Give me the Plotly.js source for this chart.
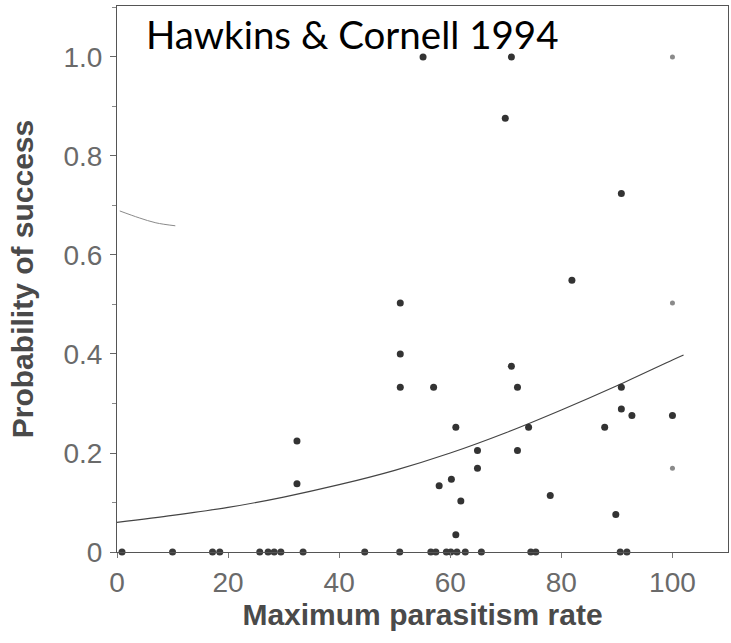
<!DOCTYPE html>
<html>
<head>
<meta charset="utf-8">
<script src="https://cdn.plot.ly/plotly-3.0.1.min.js"></script>
<style>html,body{margin:0;padding:0;background:#fff;}#chart{width:731px;height:643px;}</style>
</head>
<body>
<div id="chart"></div>
<script>
// Observed data points (maximum parasitism rate, probability of success)
var pointX = [55.1, 71.0, 69.9, 90.8, 81.9, 51.0, 51.0, 71.0, 51.0, 57.0, 72.1, 90.8, 90.8, 92.7, 100,
              61.0, 74.1, 87.8, 32.4, 64.9, 72.1, 64.9, 60.2, 58.0, 32.4, 61.9, 78.0, 89.8, 61.0];
var pointY = [1.0, 1.0, 0.876, 0.724, 0.549, 0.503, 0.40, 0.375, 0.333, 0.333, 0.333, 0.333, 0.289, 0.276, 0.276,
              0.252, 0.252, 0.252, 0.224, 0.205, 0.205, 0.169, 0.147, 0.134, 0.138, 0.103, 0.114, 0.076, 0.035];
// Faint (lighter) points at 100
var faintX = [100, 100, 100];
var faintY = [1.0, 0.503, 0.169];
// Zero-success points along the x axis
var zeroX = [0.9, 10, 17.2, 18.5, 25.7, 27.2, 28.3, 29.5, 33.5, 44.6, 50.9, 56.5, 57.4, 59.3, 60.1, 61.2,
             62.7, 65.6, 74.5, 75.4, 90.6, 91.8];
var zeroY = [0, 0, 0, 0, 0, 0, 0, 0, 0, 0, 0, 0, 0, 0, 0, 0, 0, 0, 0, 0, 0, 0];
// Fitted curve
var curveX = [0, 10, 20, 30, 40, 50, 60, 70, 80, 90, 100, 102];
var curveY = [0.060, 0.074, 0.090, 0.111, 0.136, 0.165, 0.200, 0.241, 0.287, 0.336, 0.388, 0.398];
// Stray arc fragment at upper left of the scan
var arcX = [0.5, 4, 7, 10.5];
var arcY = [0.689, 0.675, 0.665, 0.659];

var yTickVals = [0, 0.2, 0.4, 0.6, 0.8, 1.0];
var yTickText = ['0', '0.2', '0.4', '0.6', '0.8', '1.0'];
var xTickVals = [0, 20, 40, 60, 80, 100];
var xTickText = ['0', '20', '40', '60', '80', '100'];

var traces = [
  {x: arcX, y: arcY, mode: 'lines', line: {color: '#8a8a8a', width: 1, shape: 'spline'}, hoverinfo: 'skip', cliponaxis: false},
  {x: curveX, y: curveY, mode: 'lines', line: {color: '#444', width: 1.2, shape: 'spline', smoothing: 0.8}, cliponaxis: false},
  {x: zeroX, y: zeroY, mode: 'markers', marker: {color: '#3a3a3a', size: 7}, cliponaxis: false},
  {x: pointX, y: pointY, mode: 'markers', marker: {color: '#333', size: 7}, cliponaxis: false},
  {x: faintX, y: faintY, mode: 'markers', marker: {color: '#8a8a8a', size: 5}, cliponaxis: false}
];

var tickFont = {family: 'Liberation Sans, Arial, sans-serif', size: 28, color: '#6a6a6a'};
var titleFont = {family: 'Liberation Sans, Arial, sans-serif', size: 30, color: '#4a4a4a', weight: 'bold'};

var layout = {
  width: 731, height: 643,
  margin: {l: 117, r: 3, t: 6, b: 91},
  paper_bgcolor: '#fff', plot_bgcolor: '#fff',
  showlegend: false,
  title: {
    text: 'Hawkins & Cornell 1994',
    font: {family: 'Lato, sans-serif', size: 38.5, color: '#000'},
    x: 146 / 731, xanchor: 'left', xref: 'container',
    y: 1 - 22 / 643, yanchor: 'top', yref: 'container'
  },
  xaxis: {
    range: [0, 110], showgrid: false, zeroline: false,
    showline: true, linecolor: '#555', linewidth: 1, mirror: true,
    ticks: 'outside', ticklen: 5, tickcolor: '#777', tickwidth: 1,
    tickvals: xTickVals, ticktext: xTickText, tickfont: tickFont,
    ticklabelstandoff: 0,
    title: {text: 'Maximum parasitism rate', font: titleFont, standoff: 2}
  },
  yaxis: {
    range: [0, 1.103], showgrid: false, zeroline: false,
    showline: true, linecolor: '#555', linewidth: 1, mirror: true,
    ticks: 'outside', ticklen: 6, tickcolor: '#666', tickwidth: 1,
    tickvals: yTickVals, ticktext: yTickText, tickfont: tickFont,
    ticklabelstandoff: 2,
    minor: {dtick: 0.1, ticks: 'outside', ticklen: 4, tickcolor: '#888'},
    title: {text: 'Probability of success', font: titleFont, standoff: 20}
  }
};

Plotly.newPlot('chart', traces, layout, {displayModeBar: false, staticPlot: true});
</script>
</body>
</html>
